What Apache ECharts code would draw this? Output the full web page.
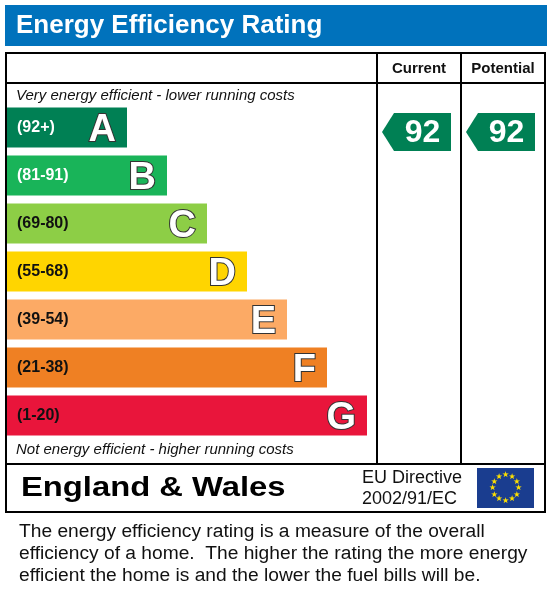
<!DOCTYPE html>
<html>
<head>
<meta charset="utf-8">
<script src="https://cdn.jsdelivr.net/npm/echarts@6/dist/echarts.min.js"></script>
<style>
html, body { margin: 0; padding: 0; background: #fff; }
#chart { width: 552px; height: 613px; }
</style>
</head>
<body>
<div id="chart"></div>
<script>
// bands, top to bottom
var bands = ['A', 'B', 'C', 'D', 'E', 'F', 'G'];
var ranges = ['(92+)', '(81-91)', '(69-80)', '(55-68)', '(39-54)', '(21-38)', '(1-20)'];
var bandMin = [92, 81, 69, 55, 39, 21, 1];
var bandLength = [3, 4, 5, 6, 7, 8, 9];
var bandColors = ['#008054', '#19b459', '#8dce46', '#ffd500', '#fcaa65', '#ef8023', '#e9153b'];
var rangeTextColors = ['#ffffff', '#ffffff', '#111111', '#111111', '#111111', '#111111', '#111111'];

// rating columns
var columns = ['Current', 'Potential'];
var ratings = [92, 92];

var paragraph = [
    'The energy efficiency rating is a measure of the overall',
    'efficiency of a home.  The higher the rating the more energy',
    'efficient the home is and the lower the fuel bills will be.'
];

function bandOf(v) {
    for (var i = 0; i < bandMin.length; i++) {
        if (v >= bandMin[i]) return i;
    }
    return bandMin.length - 1;
}

var chart = echarts.init(document.getElementById('chart'), null, { renderer: 'canvas' });

var barData = bands.map(function (b, i) {
    return {
        value: bandLength[i],
        itemStyle: { color: bandColors[i] },
        label: { color: rangeTextColors[i] }
    };
});

var arrowData = columns.map(function (c, i) {
    return [i, bandOf(ratings[i]), ratings[i]];
});

// little helpers for the frame
function hline(x1, x2, y) {
    return { type: 'line', shape: { x1: x1, y1: y, x2: x2, y2: y }, style: { stroke: '#000', lineWidth: 2 } };
}
function vline(x, y1, y2) {
    return { type: 'line', shape: { x1: x, y1: y1, x2: x, y2: y2 }, style: { stroke: '#000', lineWidth: 2 } };
}
function txt(s, x, y, font, fill, sx) {
    return {
        type: 'text', x: x, y: y, scaleX: sx || 1,
        style: { text: s, font: font, fill: fill || '#000', textAlign: 'left', textVerticalAlign: 'middle' }
    };
}

var graphics = [
    { type: 'rect', shape: { x: 5, y: 5, width: 542, height: 41 }, style: { fill: '#0072bc' } },
    txt('Energy Efficiency Rating', 16, 26, 'bold 26px Arial, "Liberation Sans"', '#ffffff'),
    { type: 'rect', shape: { x: 6, y: 53, width: 539, height: 459 }, style: { fill: 'none', stroke: '#000', lineWidth: 2 } },
    hline(6, 545, 83),
    hline(6, 545, 464),
    vline(377, 53, 464),
    vline(461, 53, 464),
    txt('Very energy efficient - lower running costs', 16, 96, 'italic 15px Arial, "Liberation Sans"', '#111'),
    txt('Not energy efficient - higher running costs', 16, 450, 'italic 15px Arial, "Liberation Sans"', '#111'),
    txt('England & Wales', 21, 488, 'bold 28px Arial, "Liberation Sans"', '#000', 1.17),
    txt('EU Directive', 362, 478, '18px Arial, "Liberation Sans"', '#111'),
    txt('2002/91/EC', 362, 499, '18px Arial, "Liberation Sans"', '#111'),
    { type: 'rect', shape: { x: 477, y: 468, width: 57, height: 40 }, style: { fill: '#1a3d8f' } }
];
for (var s = 0; s < 12; s++) {
    var a = s * Math.PI / 6;
    graphics.push({
        type: 'text', x: 505.5 + 13 * Math.sin(a), y: 488 - 13 * Math.cos(a),
        style: { text: '\u2605', font: '8px "DejaVu Sans"', fill: '#ffe000', textAlign: 'center', textVerticalAlign: 'middle' }
    });
}
paragraph.forEach(function (line, i) {
    graphics.push(txt(line, 19, 532 + i * 22, '19.2px Arial, "Liberation Sans"', '#111'));
});

var option = {
    animation: false,
    backgroundColor: '#fff',
    grid: [
        { left: 7, top: 103.5, width: 360, height: 336 },
        { left: 377, top: 103.5, width: 168, height: 336 }
    ],
    xAxis: [
        { type: 'value', gridIndex: 0, min: 0, max: 9, show: false },
        {
            type: 'category', gridIndex: 1, data: columns, position: 'top',
            axisLine: { show: false }, axisTick: { show: false }, splitLine: { show: false },
            axisLabel: {
                margin: 34.5, verticalAlign: 'middle',
                fontFamily: 'Arial, "Liberation Sans"', fontWeight: 'bold', fontSize: 15, color: '#111'
            }
        }
    ],
    yAxis: [
        { type: 'category', gridIndex: 0, data: bands, inverse: true, show: false },
        { type: 'category', gridIndex: 1, data: bands, inverse: true, show: false }
    ],
    series: [
        {
            type: 'bar', xAxisIndex: 0, yAxisIndex: 0, barWidth: 40, data: barData,
            label: {
                show: true, position: 'insideLeft', distance: 10,
                formatter: function (p) { return ranges[p.dataIndex]; },
                fontFamily: 'Arial, "Liberation Sans"', fontWeight: 'bold', fontSize: 16
            }
        },
        {
            type: 'bar', xAxisIndex: 0, yAxisIndex: 0, barWidth: 40, barGap: '-100%',
            data: bandLength, itemStyle: { color: 'rgba(0,0,0,0)' },
            label: {
                show: true, position: 'insideRight', distance: 11, offset: [0, 3],
                formatter: function (p) { return bands[p.dataIndex]; },
                fontFamily: 'Arial, "Liberation Sans"', fontWeight: 'bold', fontSize: 38,
                color: '#ffffff', textBorderColor: '#333', textBorderWidth: 2
            }
        },
        {
            type: 'custom', xAxisIndex: 1, yAxisIndex: 1, data: arrowData,
            renderItem: function (params, api) {
                var p = api.coord([api.value(0), api.value(1)]);
                var cw = api.size([1, 0])[0];
                var left = p[0] - cw / 2 + 5;
                var right = p[0] + cw / 2 - 10;
                var cy = p[1] + 4.5;
                var h = 19;
                var notch = 12;
                return {
                    type: 'group',
                    children: [
                        {
                            type: 'polygon',
                            shape: { points: [[left, cy], [left + notch, cy - h], [right, cy - h], [right, cy + h], [left + notch, cy + h]] },
                            style: { fill: bandColors[api.value(1)] }
                        },
                        {
                            type: 'text', x: (left + notch + right) / 2, y: cy + 1.5,
                            style: {
                                text: String(api.value(2)), fill: '#fff',
                                font: 'bold 32px Arial, "Liberation Sans"',
                                textAlign: 'center', textVerticalAlign: 'middle'
                            }
                        }
                    ]
                };
            }
        }
    ],
    graphic: graphics
};

chart.setOption(option);
</script>
</body>
</html>
